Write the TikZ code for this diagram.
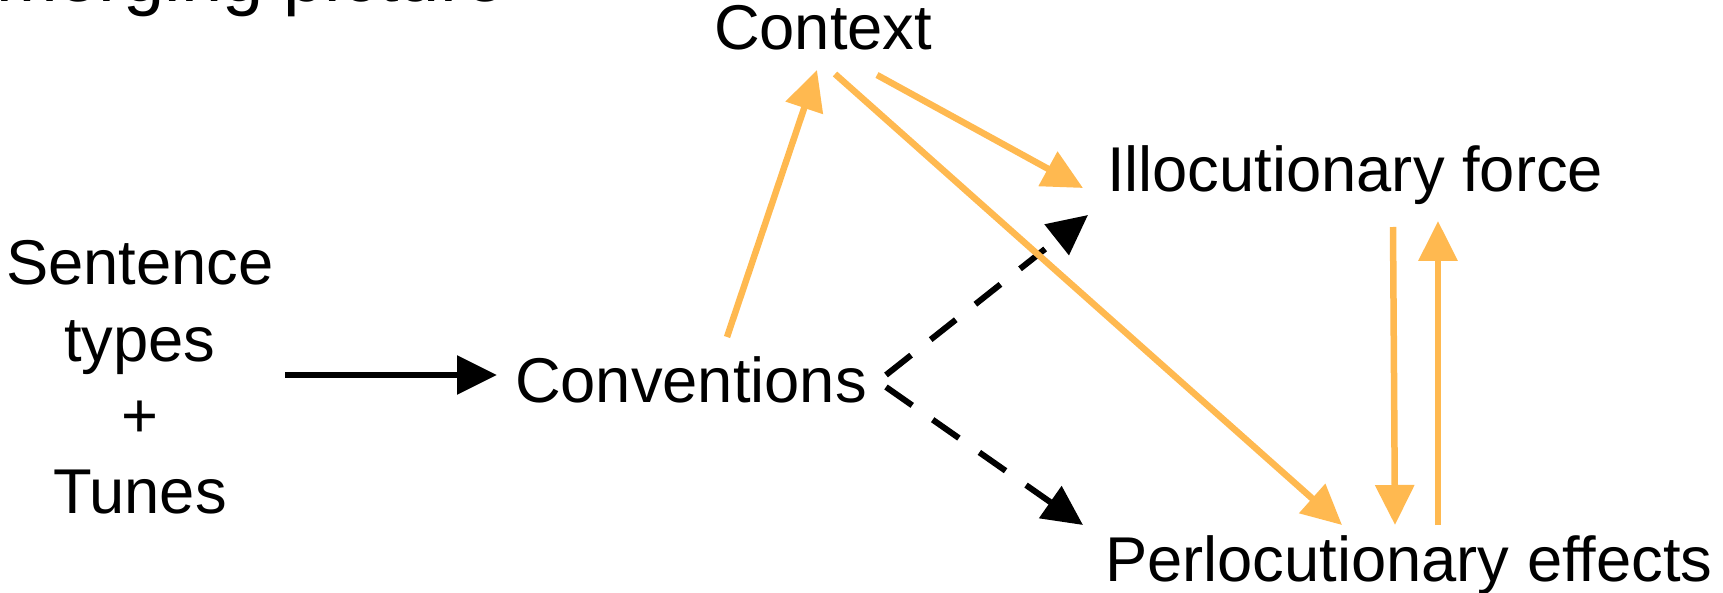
\documentclass[tikz,border=0pt]{standalone}
\usepackage{fontspec}
\setmainfont{Liberation Sans}
\usetikzlibrary{arrows.meta}
\definecolor{amber}{RGB}{255,185,80}

\begin{document}
\begin{tikzpicture}[x=1pt,y=-1pt,
  txt/.style={inner sep=0pt, outer sep=0pt, font=\fontsize{63.3}{76}\selectfont},
  lbl/.style={txt, anchor=base west},
  stack/.style={txt, anchor=base},
  headline/.style={inner sep=0pt, outer sep=0pt, anchor=base west, font=\fontsize{74}{88}\selectfont},
  tip/.style={-{Triangle[length=40pt,width=38pt]}},
  amberarrow/.style={tip, draw=amber, line width=6.5pt},
  blackarrow/.style={tip, draw=black, line width=6pt},
  dasharrow/.style={blackarrow, dash pattern=on 32pt off 25pt}
]
\useasboundingbox (0,0) rectangle (1723,593);
\clip (0,0) rectangle (1723,593);

% heading, only its descenders fall inside the frame
\node[headline] (head) at (-4,1.5) {merging picture};

% text nodes
\node[stack] (sent)  at (140,285) {Sentence};
\node[stack] (types) at (140,361) {types};
\node[stack] (plus)  at (140,437) {+};
\node[stack] (tunes) at (140,513) {Tunes};

\node[lbl] (conv) at (515,402) {Conventions};
\node[lbl] (ctx)  at (714,50)  {Context};
\node[lbl] (ill)  at (1107,192) {Illocutionary force};
\node[lbl] (per)  at (1105,581) {Perlocutionary effects};

% sentence types + tunes feed the conventions
\draw[blackarrow] ([shift={(145,14)}]types.base) -- ([shift={(-18,-27)}]conv.base west);

% conventions hint at force and effects
\draw[dasharrow] ([shift={(371,-27)}]conv.base west) -- ([shift={(-19,23)}]ill.base west);
\draw[dasharrow] ([shift={(371,-15)}]conv.base west) -- ([shift={(-22,-56)}]per.base west);

% context links
\draw[amberarrow] ([shift={(212,-65)}]conv.base west) -- ([shift={(103,20)}]ctx.base west);
\draw[amberarrow] ([shift={(163,25)}]ctx.base west) -- ([shift={(-24,-4)}]ill.base west);
\draw[amberarrow] ([shift={(121,24)}]ctx.base west) -- ([shift={(237,-56)}]per.base west);

% force and effects in both directions
\draw[amberarrow] ([shift={(286,35)}]ill.base west) -- ([shift={(290,-56)}]per.base west);
\draw[amberarrow] ([shift={(333,-56)}]per.base west) -- ([shift={(331,29)}]ill.base west);
\end{tikzpicture}
\end{document}
